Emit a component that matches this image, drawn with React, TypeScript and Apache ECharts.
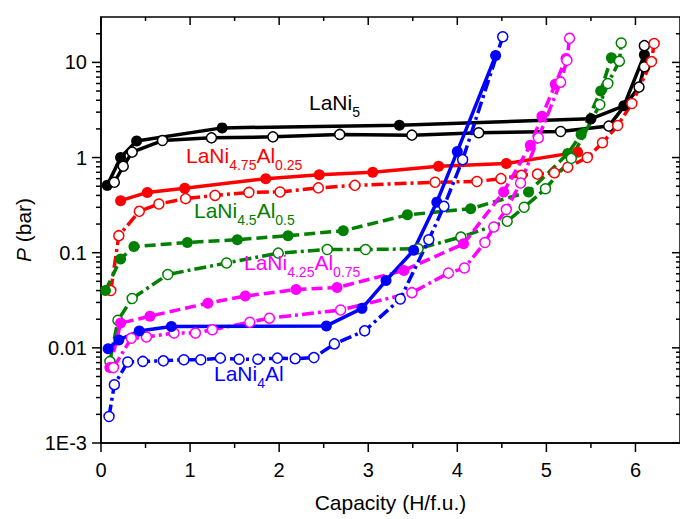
import React, { useEffect, useRef } from 'react';
import * as echarts from 'echarts';

// ---- data (Capacity in H/f.u., pressure in bar) ----
const lani5AbsX = [0.07, 0.22, 0.40, 1.36, 3.35, 5.50, 5.87, 6.10];
const lani5AbsP = [0.51, 1.0, 1.49, 2.05, 2.19, 2.55, 3.5, 12.0];
const lani5DesX = [0.15, 0.25, 0.35, 0.69, 1.24, 1.93, 2.68, 3.49, 4.24, 5.16, 5.70, 6.04, 6.10, 6.10];
const lani5DesP = [0.55, 0.81, 1.14, 1.51, 1.61, 1.65, 1.75, 1.72, 1.82, 1.88, 2.14, 5.5, 9.0, 15.0];

const al025AbsX = [0.22, 0.52, 0.94, 1.85, 2.45, 3.05, 3.79, 4.55, 5.35];
const al025AbsP = [0.352, 0.43, 0.475, 0.60, 0.66, 0.70, 0.81, 0.865, 1.14];
const al025DesX = [0.11, 0.20, 0.43, 0.65, 0.95, 1.28, 1.66, 2.01, 2.44, 2.85, 3.75, 4.22, 4.49, 4.72, 4.90, 5.09, 5.24, 5.46, 5.63, 5.80, 5.96, 6.18, 6.21];
const al025DesP = [0.040, 0.151, 0.272, 0.325, 0.37, 0.40, 0.43, 0.435, 0.48, 0.51, 0.55, 0.56, 0.60, 0.65, 0.67, 0.69, 0.79, 1.0, 1.43, 2.17, 3.7, 10.2, 15.8];

const al05AbsX = [0.05, 0.22, 0.37, 0.97, 1.53, 2.10, 2.72, 3.44, 4.15, 4.80, 5.24, 5.39, 5.61, 5.73];
const al05AbsP = [0.040, 0.086, 0.116, 0.128, 0.137, 0.151, 0.17, 0.25, 0.29, 0.435, 1.1, 1.75, 5.0, 11.2];
const al05DesX = [0.10, 0.19, 0.35, 0.75, 1.41, 1.99, 2.54, 2.97, 3.56, 4.04, 4.56, 4.75, 4.99, 5.28, 5.60, 5.69, 5.82, 5.84];
const al05DesP = [0.0072, 0.0195, 0.033, 0.059, 0.078, 0.099, 0.108, 0.108, 0.11, 0.146, 0.214, 0.30, 0.47, 0.98, 3.6, 6.0, 10.3, 16.0];

const al075AbsX = [0.10, 0.22, 0.55, 1.20, 1.62, 2.19, 2.65, 3.40, 4.07, 4.52, 4.82, 4.95, 5.10, 5.22];
const al075AbsP = [0.0062, 0.0182, 0.0215, 0.0295, 0.035, 0.041, 0.043, 0.065, 0.124, 0.435, 1.35, 2.72, 5.9, 11.0];
const al075DesX = [0.14, 0.34, 0.51, 0.82, 1.06, 1.25, 1.67, 1.89, 2.69, 3.49, 3.90, 4.08, 4.31, 4.41, 4.55, 4.71, 4.91, 5.16, 5.23, 5.26];
const al075DesP = [0.0062, 0.0126, 0.013, 0.0143, 0.0143, 0.0155, 0.0186, 0.0205, 0.025, 0.038, 0.061, 0.069, 0.128, 0.186, 0.284, 0.54, 1.61, 6.2, 10.5, 17.9];

const al1AbsX = [0.08, 0.20, 0.43, 0.79, 2.53, 2.93, 3.20, 3.51, 3.77, 4.00, 4.43];
const al1AbsP = [0.0098, 0.0121, 0.015, 0.0168, 0.017, 0.026, 0.051, 0.106, 0.34, 1.16, 11.8];
const al1DesX = [0.09, 0.15, 0.30, 0.47, 0.70, 0.93, 1.12, 1.34, 1.55, 1.76, 1.98, 2.18, 2.39, 2.62, 2.96, 3.36, 3.68, 3.85, 4.06, 4.51];
const al1DesP = [0.0019, 0.0041, 0.0071, 0.0072, 0.0073, 0.0075, 0.0075, 0.0078, 0.0076, 0.0076, 0.0078, 0.0077, 0.0079, 0.011, 0.0151, 0.0326, 0.137, 0.307, 0.95, 18.6];

const xMajorTicks = [0, 1, 2, 3, 4, 5, 6];
const xMinorTicks = [0.5, 1.5, 2.5, 3.5, 4.5, 5.5];
const yDecades = [-3, -2, -1, 0, 1];
const yLabelText: Record<string, string> = { '-3': '1E-3', '-2': '0.01', '-1': '0.1', '0': '1', '1': '10' };

const FONT = "'Liberation Sans', Arial, sans-serif";
const BLACK = '#000000';
const RED = '#ff0000';
const GREEN = '#008000';
const MAGENTA = '#ff00ff';
const BLUE = '#0000ff';

const DASH = [11, 5];
const DASHDOT = [12, 4, 3, 4];

type Def = { name: string; x: number[]; p: number[]; color: string; filled: boolean; dash: any };
const defs: Def[] = [
  { name: 'LaNi5 abs', x: lani5AbsX, p: lani5AbsP, color: BLACK, filled: true, dash: 'solid' },
  { name: 'LaNi5 des', x: lani5DesX, p: lani5DesP, color: BLACK, filled: false, dash: 'solid' },
  { name: 'Al0.25 abs', x: al025AbsX, p: al025AbsP, color: RED, filled: true, dash: 'solid' },
  { name: 'Al0.25 des', x: al025DesX, p: al025DesP, color: RED, filled: false, dash: DASHDOT },
  { name: 'Al0.5 abs', x: al05AbsX, p: al05AbsP, color: GREEN, filled: true, dash: DASH },
  { name: 'Al0.5 des', x: al05DesX, p: al05DesP, color: GREEN, filled: false, dash: DASHDOT },
  { name: 'Al0.75 abs', x: al075AbsX, p: al075AbsP, color: MAGENTA, filled: true, dash: DASH },
  { name: 'Al0.75 des', x: al075DesX, p: al075DesP, color: MAGENTA, filled: false, dash: DASHDOT },
  { name: 'Al1 abs', x: al1AbsX, p: al1AbsP, color: BLUE, filled: true, dash: 'solid' },
  { name: 'Al1 des', x: al1DesX, p: al1DesP, color: BLUE, filled: false, dash: DASHDOT },
];

function label(id: string, x: number, y: number, color: string, parts: [string, string][]) {
  const text = parts.map(([k, t]) => `{${k}|${t}}`).join('');
  return {
    type: 'text', id, x, y, silent: true, z: 100,
    style: {
      text, fill: color, align: 'left', verticalAlign: 'top', fontFamily: FONT,
      rich: {
        m: { fontSize: 21, lineHeight: 24, verticalAlign: 'top', fill: color, fontFamily: FONT },
        s: { fontSize: 14, lineHeight: 16, padding: [13, 0, 0, 0], verticalAlign: 'top', fill: color, fontFamily: FONT },
      },
    },
  };
}

export default function App() {
  const ref = useRef<HTMLDivElement>(null);
  useEffect(() => {
    if (!ref.current) return;
    const chart = echarts.init(ref.current, undefined, { renderer: 'svg' });
    const series = defs.map((d) => ({
      name: d.name,
      type: 'line',
      data: d.x.map((v, i) => [v, d.p[i]]),
      symbol: 'circle',
      symbolSize: d.filled ? 11 : 10,
      showSymbol: true,
      lineStyle: { color: d.color, width: 3.5, type: d.dash },
      itemStyle: d.filled
        ? { color: d.color, borderColor: d.color, borderWidth: 0 }
        : { color: '#ffffff', borderColor: d.color, borderWidth: 1.5 },
      emphasis: { disabled: true },
      clip: true,
    }));
    chart.setOption({
      animation: false,
      textStyle: { fontFamily: FONT },
      grid: { left: 101, top: 17, width: 581, height: 426, show: true, borderColor: '#000', borderWidth: 1.5, backgroundColor: 'transparent' },
      xAxis: {
        type: 'value', min: 0, max: 6.5, interval: 1,
        axisLine: { show: true, onZero: false, lineStyle: { color: '#000', width: 1.5 } },
        axisTick: { show: false },
        splitLine: { show: false },
        axisLabel: { color: '#000', fontSize: 20, fontFamily: FONT, margin: 17, showMaxLabel: false },
        name: 'Capacity (H/f.u.)', nameLocation: 'middle', nameGap: 49,
        nameTextStyle: { color: '#000', fontSize: 21, fontFamily: FONT },
      },
      yAxis: {
        type: 'log', logBase: 10, min: 0.001, max: 30,
        axisLine: { show: true, onZero: false, lineStyle: { color: '#000', width: 1.5 } },
        axisTick: { show: false },
        splitLine: { show: false },
        axisLabel: {
          color: '#000', fontSize: 20, fontFamily: FONT, margin: 14, showMaxLabel: false,
          formatter: (v: number) => {
            const l = Math.log10(v);
            const r = Math.round(l);
            if (Math.abs(l - r) > 0.01) return '';
            return yLabelText[String(r)] ?? '';
          },
        },
        name: '{i|P} (bar)', nameLocation: 'middle', nameGap: 62,
        nameTextStyle: { color: '#000', fontSize: 21, fontFamily: FONT, rich: { i: { fontStyle: 'italic', fontSize: 21, fontFamily: FONT, color: '#000' } } },
      },
      series,
    });

    const xp = (v: number) => chart.convertToPixel({ xAxisIndex: 0 }, v) as number;
    const yp = (v: number) => chart.convertToPixel({ yAxisIndex: 0 }, v) as number;
    const x0 = xp(0);
    const xr = xp(6.5);
    const yb = yp(0.001);
    const yt = yp(30);
    const els: any[] = [];
    const ln = (id: string, x1: number, y1: number, x2: number, y2: number) =>
      els.push({ type: 'line', id, silent: true, z: 50, shape: { x1, y1, x2, y2 }, style: { stroke: '#000', lineWidth: 1.5 } });
    xMajorTicks.forEach((v, i) => {
      const x = xp(v);
      ln('xb' + i, x, yb, x, yb + 9);
      ln('xt' + i, x, yt, x, yt + 8);
    });
    xMinorTicks.forEach((v, i) => {
      const x = xp(v);
      ln('xbm' + i, x, yb, x, yb + 5);
      ln('xtm' + i, x, yt, x, yt + 4);
    });
    yDecades.forEach((d) => {
      const base = Math.pow(10, d);
      const y = yp(base);
      ln('yl' + d, x0 - 9, y, x0, y);
      ln('yr' + d, xr - 8, y, xr, y);
      for (let m = 2; m <= 9; m++) {
        const v = m * base;
        if (v >= 30) break;
        const ym = yp(v);
        ln('ylm' + d + '_' + m, x0 - 5, ym, x0, ym);
        ln('yrm' + d + '_' + m, xr - 4, ym, xr, ym);
      }
    });
    els.push(label('lb1', 309, 92, BLACK, [['m', 'LaNi'], ['s', '5']]));
    els.push(label('lb2', 186, 145, RED, [['m', 'LaNi'], ['s', '4.75'], ['m', 'Al'], ['s', '0.25']]));
    els.push(label('lb3', 194, 200, GREEN, [['m', 'LaNi'], ['s', '4.5'], ['m', 'Al'], ['s', '0.5']]));
    els.push(label('lb4', 244, 252, MAGENTA, [['m', 'LaNi'], ['s', '4.25'], ['m', 'Al'], ['s', '0.75']]));
    els.push(label('lb5', 214, 363, BLUE, [['m', 'LaNi'], ['s', '4'], ['m', 'Al']]));
    chart.setOption({ graphic: { elements: els } });
    return () => chart.dispose();
  }, []);
  return <div ref={ref} style={{ position: 'absolute', left: 0, top: 0, width: 680, height: 519 }} />;
}
